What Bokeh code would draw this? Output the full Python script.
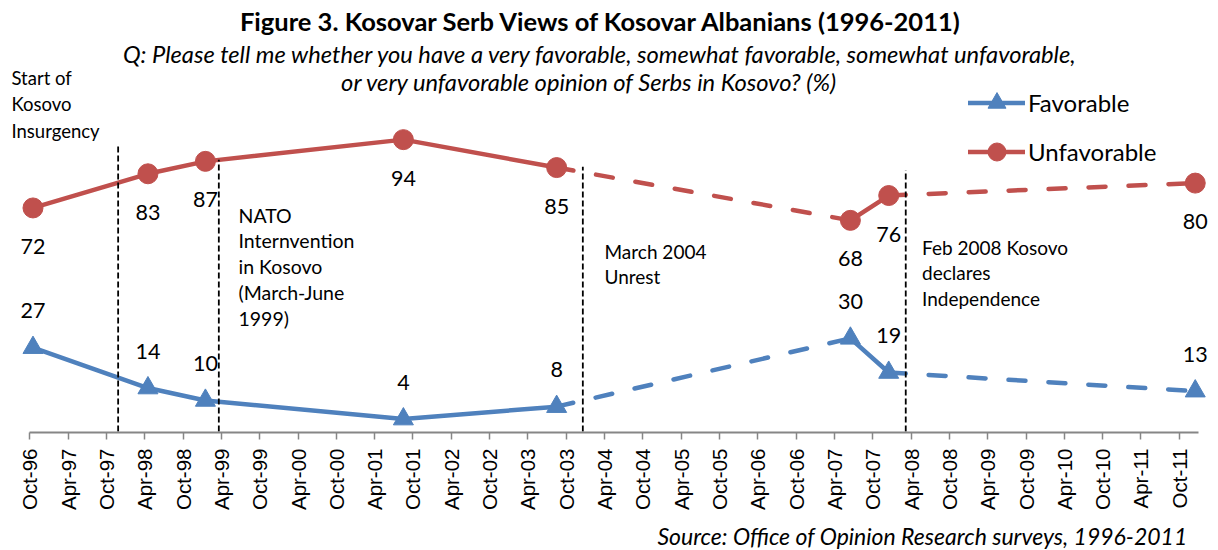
import math
from bokeh.plotting import figure
from bokeh.layouts import column
from bokeh.models import (ColumnDataSource, Range1d, FixedTicker, Label, LabelSet,
                          Legend, LegendItem)
from bokeh.embed import file_html
from bokeh.resources import INLINE
from bokeh.core.properties import value

# ---------------- data ----------------
survey_dates = ["1996-10", "1998-04", "1999-01", "2001-08", "2003-08", "2007-06", "2007-12", "2011-12"]
favorable = [27, 14, 10, 4, 8, 30, 19, 13]
unfavorable = [72, 83, 87, 94, 85, 68, 76, 80]
segment_style = ["solid", "solid", "solid", "solid", "dashed", "solid", "dashed"]

tick_labels = ["Oct-96", "Apr-97", "Oct-97", "Apr-98", "Oct-98", "Apr-99", "Oct-99", "Apr-00",
               "Oct-00", "Apr-01", "Oct-01", "Apr-02", "Oct-02", "Apr-03", "Oct-03", "Apr-04",
               "Oct-04", "Apr-05", "Oct-05", "Apr-06", "Oct-06", "Apr-07", "Oct-07", "Apr-08",
               "Oct-08", "Apr-09", "Oct-09", "Apr-10", "Oct-10", "Apr-11", "Oct-11"]

event_dates = ["1997-11-26", "1999-03-19", "2003-12-19", "2008-03-06"]
event_tops = [92.0, 87.5, 85.3, 84.1]
event_texts = [["Start of", "Kosovo", "Insurgency"],
               ["NATO", "Internvention", "in Kosovo", "(March-June", "1999)"],
               ["March 2004", "Unrest"],
               ["Feb 2008 Kosovo", "declares", "Independence"]]

title_text = "Figure 3. Kosovar Serb Views of Kosovar Albanians (1996-2011)"
subtitle_lines = ["Q: Please tell me whether you have a very favorable, somewhat favorable, somewhat unfavorable,",
                  "or very unfavorable opinion of Serbs in Kosovo? (%)"]
source_text = "Source: Office of Opinion Research surveys, 1996-2011"

BLUE = "#4F81BD"
RED = "#C0504D"


def month_index(s):
    parts = s.split("-")
    y, m = int(parts[0]), int(parts[1])
    idx = (y - 1996) * 12 + (m - 10)
    if len(parts) == 3:
        idx += (int(parts[2]) - 1) / 30.0
    return idx


# mid-month placement (date axis, months as base unit)
xs = [month_index(d) + 0.5 for d in survey_dates]
tick_pos = [6 * i for i in range(len(tick_labels))]
ev_x = [month_index(d) for d in event_dates]

# ---------------- layout ----------------
W = 1210
FRAME_H = 432
BOTTOM = 85
H = FRAME_H + BOTTOM
H2 = 550 - H
PXM = 6.386        # px per month
AXIS0 = 29.3       # x of Oct-96
PXV = 3.105        # px per percent
ZERO = 431.0       # y of 0 %

x_range = Range1d(-AXIS0 / PXM, (W - AXIS0) / PXM)
y_range = Range1d(-(FRAME_H - ZERO) / PXV, ZERO / PXV)


def fx(px):
    return (px - AXIS0) / PXM


def fy(py):
    return (ZERO - py) / PXV


p = figure(width=W, height=H, x_range=x_range, y_range=y_range,
           output_backend="svg", toolbar_location=None, y_axis_location=None,
           min_border_left=0, min_border_right=0, min_border_top=0,
           min_border_bottom=BOTTOM)
p.outline_line_color = None
p.xgrid.visible = False
p.ygrid.visible = False

ax = p.xaxis[0]
ax.ticker = FixedTicker(ticks=tick_pos, minor_ticks=[])
ax.major_label_overrides = {t: l for t, l in zip(tick_pos, tick_labels)}
ax.major_label_orientation = math.pi / 2
ax.bounds = (0, 183)
ax.axis_line_color = "#868686"
ax.axis_line_width = 2
ax.major_tick_line_color = "#868686"
ax.major_tick_line_width = 1.5
ax.major_tick_out = 7
ax.major_tick_in = 0
ax.major_label_standoff = 9
ax.major_label_text_font = "Liberation Sans"
ax.major_label_text_font_size = "20.5px"
ax.major_label_text_color = "black"


def seg_source(vals, style):
    d = dict(x0=[], x1=[], y0=[], y1=[])
    for i, st in enumerate(segment_style):
        if st == style:
            d["x0"].append(xs[i]); d["x1"].append(xs[i + 1])
            d["y0"].append(vals[i]); d["y1"].append(vals[i + 1])
    return ColumnDataSource(d)


renderers = {}
for name, vals, color, marker in [("fav", favorable, BLUE, "triangle"),
                                  ("unf", unfavorable, RED, "circle")]:
    solid = p.segment("x0", "y0", "x1", "y1", source=seg_source(vals, "solid"),
                      line_color=color, line_width=4.5, line_cap="round")
    dashed = p.segment("x0", "y0", "x1", "y1", source=seg_source(vals, "dashed"),
                       line_color=color, line_width=4.5, line_dash="17 23", line_cap="round")
    pts = p.scatter(xs, vals, marker=marker, size=20, fill_color=color, line_color=color)
    renderers[name] = (solid, pts)

# event lines
p.segment(x0=ev_x, x1=ev_x, y0=[0] * len(ev_x), y1=event_tops,
          line_color="black", line_width=1.8, line_dash="6 3")

# data labels
lab_src = ColumnDataSource(dict(x=xs, fav=favorable, unf=unfavorable,
                                fav_t=[str(v) for v in favorable],
                                unf_t=[str(v) for v in unfavorable]))
for col, txt, off in [("fav", "fav_t", 37), ("unf", "unf_t", -38.5)]:
    p.add_layout(LabelSet(x="x", y=col, text=txt, source=lab_src, y_offset=off,
                          text_align="center", text_baseline="middle",
                          text_font=value("Lato"), text_font_size="21.5px",
                          text_color="black"))

# event annotations
text_pos = [(11, 77, 26.7, "18.5px"), (238, 214.5, 25.8, "19.5px"),
            (604, 250.5, 25.0, "19px"), (921.5, 246.5, 25.8, "19px")]
for lines, (tx, ty, step, fs) in zip(event_texts, text_pos):
    for k, ln in enumerate(lines):
        p.add_layout(Label(x=fx(tx), y=fy(ty + k * step), text=ln,
                           text_align="left", text_baseline="middle",
                           text_font="Lato", text_font_size=fs, text_color="black"))

# titles
p.add_layout(Label(x=fx(601), y=fy(20), text=title_text, text_align="center",
                   text_baseline="middle", text_font="Lato", text_font_style="bold",
                   text_font_size="25.5px", text_color="black"))
for ln, (cx, cy) in zip(subtitle_lines, [(600, 53), (589, 81)]):
    p.add_layout(Label(x=fx(cx), y=fy(cy), text=ln, text_align="center",
                       text_baseline="middle", text_font="Lato", text_font_style="italic",
                       text_font_size="23.7px", text_color="black"))

legend = Legend(items=[LegendItem(label="Favorable", renderers=list(renderers["fav"])),
                       LegendItem(label="Unfavorable", renderers=list(renderers["unf"]))],
                location=(968, FRAME_H - 174), orientation="vertical",
                glyph_width=57, glyph_height=45, label_height=45, spacing=4,
                label_standoff=3, padding=0, margin=0,
                border_line_color=None, background_fill_alpha=0,
                label_text_font="Lato", label_text_font_size="24px",
                label_text_color="black")
p.add_layout(legend)

# source line in a slim strip below the axis
p2 = figure(width=W, height=H2, x_range=Range1d(0, W), y_range=Range1d(0, H2),
            output_backend="svg", toolbar_location=None,
            x_axis_location=None, y_axis_location=None, min_border=0)
p2.outline_line_color = None
p2.xgrid.visible = False
p2.ygrid.visible = False
p2.add_layout(Label(x=1187, y=H2 - (535 - H), text=source_text, text_align="right",
                    text_baseline="middle", text_font="Lato", text_font_style="italic",
                    text_font_size="23px", text_color="black"))

layout = column(p, p2, spacing=0)
open("out.html", "w").write(file_html(layout, INLINE))
